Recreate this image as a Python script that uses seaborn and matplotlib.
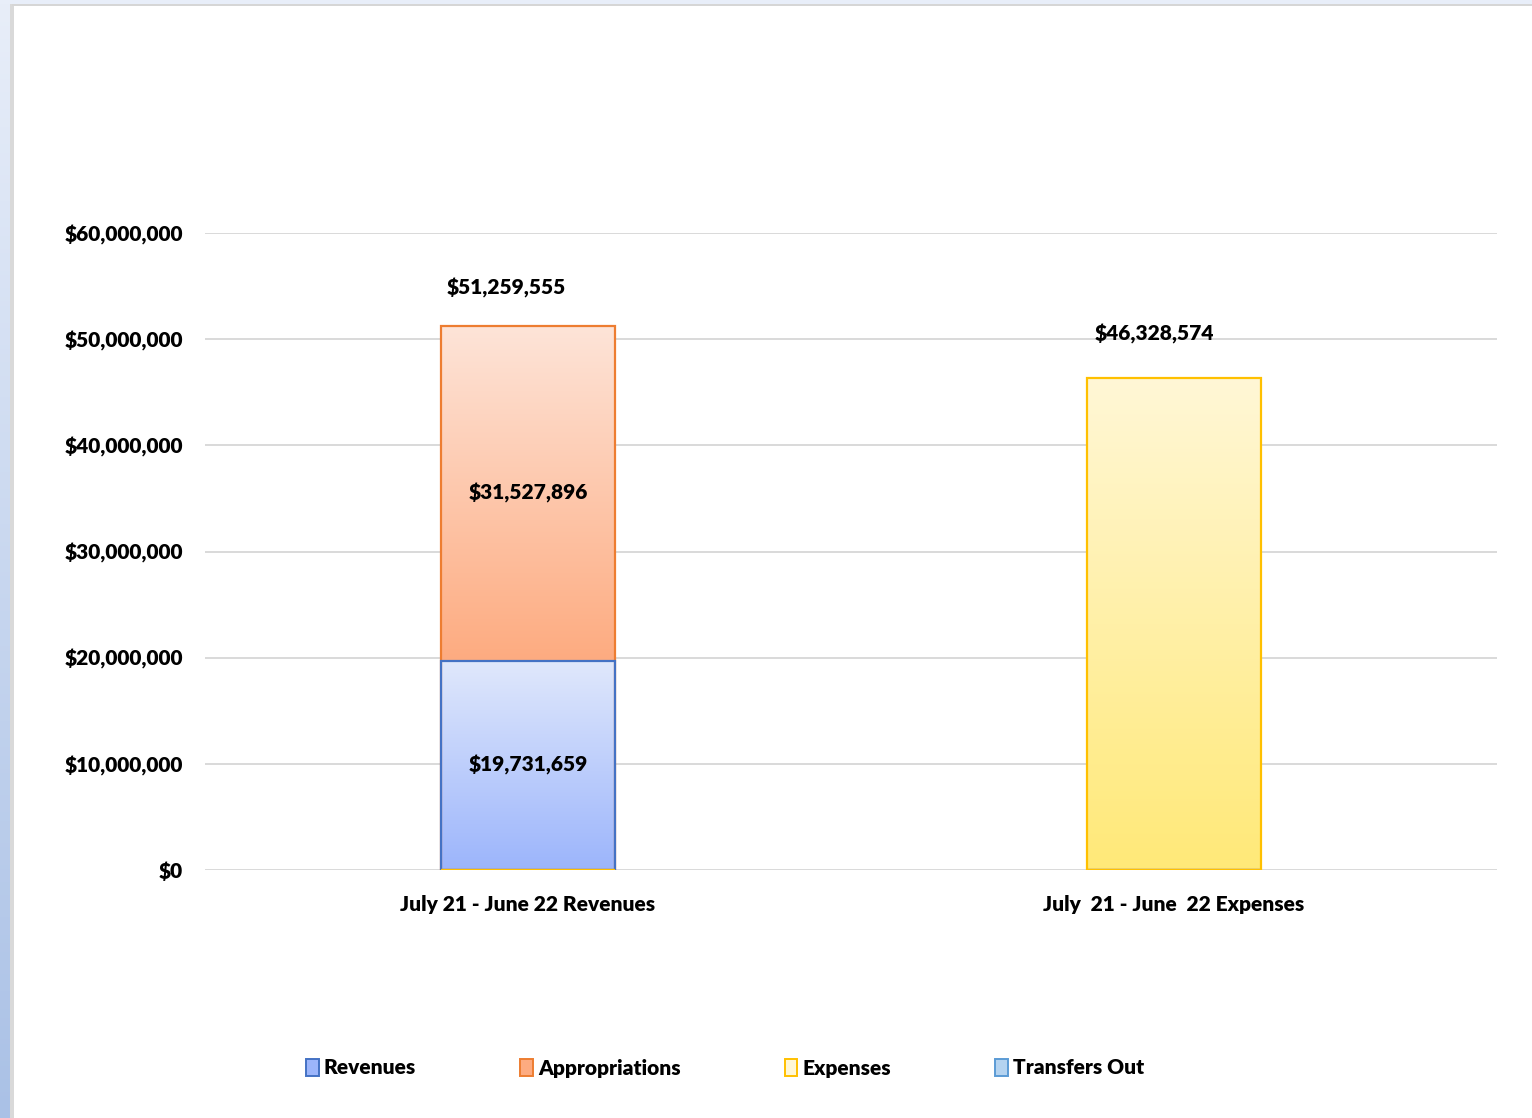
import numpy as np
import pandas as pd
import matplotlib
matplotlib.use("Agg")
import matplotlib.pyplot as plt
import seaborn as sns
from matplotlib.colors import LinearSegmentedColormap
from matplotlib.patches import Patch, Rectangle
from matplotlib.ticker import FuncFormatter, MultipleLocator

# data
categories = ["July 21 - June 22 Revenues", "July  21 - June  22 Expenses"]
revenues = [19731659, 0]
appropriations = [31527896, 0]
expenses = [0, 46328574]
transfers_out = [0, 0]
series_names = ["Revenues", "Appropriations", "Expenses", "Transfers Out"]

df = pd.DataFrame({
    "category": categories,
    "Revenues": revenues,
    "Appropriations": appropriations,
    "Expenses": expenses,
    "Transfers Out": transfers_out,
})
df["rev_total"] = df["Revenues"] + df["Appropriations"]

# colours: (top of gradient, bottom of gradient, edge)
colors = {
    "Revenues": ("#e0e8fc", "#9cb5fb", "#4472c4"),
    "Appropriations": ("#fee4d8", "#fdab80", "#ed7d31"),
    "Expenses": ("#fff7d6", "#ffe978", "#ffc000"),
    "Transfers Out": ("#deebf8", "#b4d3f0", "#5b9bd5"),
}

sns.set_theme(style="whitegrid")
plt.rcParams["font.family"] = ["Lato", "DejaVu Sans"]
WT = "heavy"
plt.rcParams["font.weight"] = WT
plt.rcParams["text.color"] = "black"
plt.rcParams["xtick.color"] = "black"
plt.rcParams["ytick.color"] = "black"
FS = 15

fig = plt.figure(figsize=(15.32, 11.18), dpi=100)
ax = fig.add_axes([205 / 1532, 1 - 870 / 1118, 1292 / 1532, 637 / 1118])

bar_w = 0.27
# stacked: totals first (appropriations on top), revenues drawn over them
sns.barplot(data=df, x="category", y="rev_total", color=colors["Appropriations"][1],
            edgecolor=colors["Appropriations"][2], linewidth=1.6, width=bar_w, ax=ax)
app_patches = list(ax.patches)
sns.barplot(data=df, x="category", y="Revenues", color=colors["Revenues"][1],
            edgecolor=colors["Revenues"][2], linewidth=1.6, width=bar_w, ax=ax)
rev_patches = list(ax.patches)[len(app_patches):]
sns.barplot(data=df, x="category", y="Expenses", color=colors["Expenses"][1],
            edgecolor=colors["Expenses"][2], linewidth=1.6, width=bar_w, ax=ax)
exp_patches = list(ax.patches)[len(app_patches) + len(rev_patches):]


def gradient_fill(ax, patch, top_color, bottom_color, y_from=None):
    x0 = patch.get_x()
    w = patch.get_width()
    y0 = patch.get_y() if y_from is None else y_from
    y1 = patch.get_y() + patch.get_height()
    if y1 - y0 <= 0:
        return
    cmap = LinearSegmentedColormap.from_list("g", [bottom_color, top_color])
    grad = np.linspace(0, 1, 256).reshape(-1, 1)
    im = ax.imshow(grad, cmap=cmap, extent=[x0, x0 + w, y0, y1], origin="lower",
                   aspect="auto", zorder=patch.get_zorder() - 0.01, interpolation="bilinear")
    im.set_clip_path(patch)
    patch.set_facecolor("none")


for p, base in zip(app_patches, df["Revenues"]):
    gradient_fill(ax, p, colors["Appropriations"][0], colors["Appropriations"][1], y_from=base)
for p in rev_patches:
    gradient_fill(ax, p, colors["Revenues"][0], colors["Revenues"][1])
for p in exp_patches:
    gradient_fill(ax, p, colors["Expenses"][0], colors["Expenses"][1])

ax.set_xlim(-0.5, 1.5)
ax.set_ylim(0, 60000000)
ax.yaxis.set_major_locator(MultipleLocator(10000000))
ax.yaxis.set_major_formatter(FuncFormatter(lambda v, _: f"${v:,.0f}"))
ax.grid(axis="y", color="#d9d9d9", linewidth=1.4)
ax.grid(axis="x", visible=False)
ax.set_axisbelow(True)
for s in ax.spines.values():
    s.set_visible(False)
ax.tick_params(axis="y", length=0, pad=16, labelsize=FS, labelcolor="black")
ax.tick_params(axis="x", length=0, pad=18, labelsize=FS, labelcolor="black")
for t in ax.get_xticklabels() + ax.get_yticklabels():
    t.set_fontweight(WT)
ax.set_xlabel("")
ax.set_ylabel("")

# data labels
for i in range(len(categories)):
    rv, ap, ex = revenues[i], appropriations[i], expenses[i]
    if rv > 0:
        ax.text(i, rv / 2, f"${rv:,.0f}", ha="center", va="center", fontsize=FS, fontweight=WT)
    if ap > 0:
        ax.text(i, rv + ap / 2, f"${ap:,.0f}", ha="center", va="center", fontsize=FS, fontweight=WT)
        ax.annotate(f"${rv + ap:,.0f}", xy=(i, rv + ap), xytext=(-16, 27), textcoords="offset points",
                    ha="center", va="center", fontsize=FS, fontweight=WT, annotation_clip=False)
    if ex > 0:
        ax.annotate(f"${ex:,.0f}", xy=(i, ex), xytext=(-14, 32), textcoords="offset points",
                    ha="center", va="center", fontsize=FS, fontweight=WT, annotation_clip=False)

# legend
handles = [Patch(facecolor=colors[n][1] if n != "Expenses" else colors[n][0],
                 edgecolor=colors[n][2], linewidth=1.4, label=n) for n in series_names]
leg = fig.legend(handles=handles, loc="center", bbox_to_anchor=(725 / 1532, 1 - 1068 / 1118), ncol=4,
                 frameon=False, columnspacing=5.0, handlelength=0.6, handleheight=0.9,
                 handletextpad=0.25, prop={"weight": WT, "size": FS})
for t in leg.get_texts():
    t.set_color("black")

# window frame decoration
W, H = 1532, 1118
left_ax = fig.add_axes([0, 0, 10 / W, 1])
left_ax.imshow(np.linspace(0, 1, 256).reshape(-1, 1), aspect="auto",
               cmap=LinearSegmentedColormap.from_list("f", ["#e8eef9", "#aac1e6"]))
left_ax.axis("off")
fig.add_artist(Rectangle((10 / W, 0), 4 / W, 1 - 4 / H, transform=fig.transFigure,
                         facecolor="#d9d9d9", edgecolor="none"))
fig.add_artist(Rectangle((10 / W, 1 - 4 / H), 1, 4 / H, transform=fig.transFigure,
                         facecolor="#e8eef9", edgecolor="none"))
fig.add_artist(Rectangle((12 / W, 1 - 6 / H), 1, 2 / H, transform=fig.transFigure,
                         facecolor="#d6d6d6", edgecolor="none"))

fig.savefig("out.png", dpi=100)
